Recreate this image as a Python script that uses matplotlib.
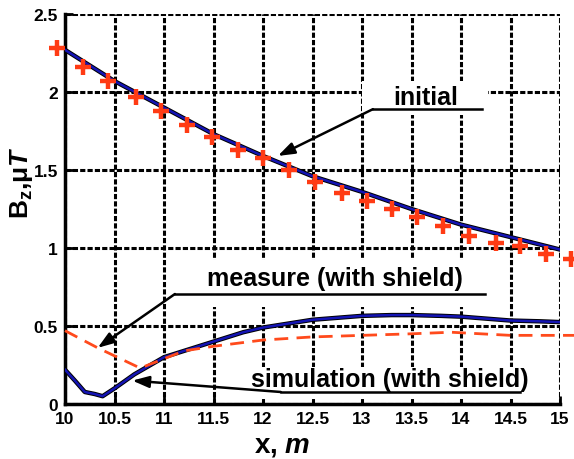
import matplotlib
matplotlib.use("Agg")
import matplotlib.pyplot as plt
import matplotlib.patheffects as pe
from matplotlib import font_manager
from matplotlib.patches import Rectangle

# pick a heavy sans font
names = {f.name for f in font_manager.fontManager.ttflist}
FONT = "Liberation Sans" if "Liberation Sans" in names else "DejaVu Sans"
TICKFONT = "Liberation Sans Narrow" if "Liberation Sans Narrow" in names else FONT

plt.rcParams['font.family'] = [FONT, 'DejaVu Sans']
plt.rcParams['mathtext.fontset'] = 'custom'
plt.rcParams['mathtext.rm'] = FONT + ':bold'
plt.rcParams['mathtext.it'] = FONT + ':bold:italic'

# initial field (simulation, no shield)
x_init = [10, 10.5, 11, 11.5, 12, 12.5, 13, 13.5, 14, 14.5, 15]
y_init = [2.27, 2.07, 1.90, 1.73, 1.59, 1.46, 1.36, 1.25, 1.15, 1.07, 0.99]

# initial field, measured points
x_meas0 = [9.92, 10.18, 10.43, 10.72, 10.97, 11.23, 11.48, 11.75, 12.0, 12.26, 12.53,
           12.8, 13.05, 13.3, 13.56, 13.82, 14.08, 14.35, 14.6, 14.86, 15.11]
y_meas0 = [2.28, 2.16, 2.07, 1.97, 1.88, 1.79, 1.71, 1.63, 1.58, 1.50, 1.42,
           1.35, 1.30, 1.25, 1.20, 1.14, 1.08, 1.03, 1.01, 0.96, 0.93]

# simulation with shield
x_sim = [10, 10.1, 10.2, 10.3, 10.38, 10.5, 10.7, 11, 11.3, 11.5, 11.8, 12, 12.3,
         12.5, 12.8, 13, 13.3, 13.5, 13.8, 14, 14.3, 14.5, 14.8, 15]
y_sim = [0.22, 0.15, 0.077, 0.064, 0.05, 0.10, 0.19, 0.30, 0.36, 0.40, 0.46, 0.49, 0.52,
         0.54, 0.555, 0.565, 0.57, 0.57, 0.565, 0.56, 0.545, 0.535, 0.53, 0.525]

# measurement with shield
x_msh = [10, 10.33, 10.76, 11, 11.2, 11.5, 12, 12.5, 13, 13.5, 13.9, 14.2, 14.5, 15, 15.15]
y_msh = [0.47, 0.36, 0.23, 0.29, 0.34, 0.37, 0.41, 0.43, 0.44, 0.45, 0.46, 0.45, 0.44, 0.44, 0.44]

xticks = [10, 10.5, 11, 11.5, 12, 12.5, 13, 13.5, 14, 14.5, 15]
xtick_labels = ["10", "10.5", "11", "11.5", "12", "12.5", "13", "13.5", "14", "14.5", "15"]
yticks = [0, 0.5, 1, 1.5, 2, 2.5]
ytick_labels = ["0", "0.5", "1", "1.5", "2", "2.5"]

fig = plt.figure(figsize=(5.74, 4.6), dpi=100)
ax = fig.add_axes([65 / 574, 55 / 460, 495 / 574, 390 / 460])

outline = [pe.Stroke(linewidth=3.2, foreground='black'), pe.Normal()]

ax.plot(x_init, y_init, color='#1414b4', lw=1.8, zorder=4, path_effects=outline)
ax.plot(x_sim, y_sim, color='#1414b4', lw=1.8, zorder=4, path_effects=outline)
ax.plot(x_msh, y_msh, color='#ff4a1c', lw=2, dashes=(5, 3), zorder=5, clip_on=False)
ax.plot(x_meas0, y_meas0, ls='none', marker='+', ms=11, mew=3.2, color='#ff3b14',
        zorder=6, clip_on=False)

ax.set_xlim(10, 15)
ax.set_ylim(0, 2.5)
ax.set_xticks(xticks)
ax.set_xticklabels(xtick_labels)
ax.set_yticks(yticks)
ax.set_yticklabels(ytick_labels)
for lab in ax.get_xticklabels() + ax.get_yticklabels():
    lab.set_fontfamily(TICKFONT)
    lab.set_fontweight('bold')
    lab.set_fontsize(12.5)
ax.tick_params(direction='in', length=6, width=2, pad=5, top=False, right=False)
ax.grid(True, color='black', lw=2.2, ls=(0, (1.7, 0.7)))
ax.set_axisbelow(True)
for side in ['top', 'right']:
    ax.spines[side].set_visible(False)
for side in ['left', 'bottom']:
    ax.spines[side].set_linewidth(2.5)

ax.set_ylabel(r'B$_{\mathrm{z}}$,μ$\mathit{T}$', fontsize=19, fontweight='bold', va='center')
ax.yaxis.set_label_coords(-0.087, 0.569)
ax.set_xlabel(r'x, $\mathit{m}$', fontsize=20, fontweight='bold', va='center')
ax.xaxis.set_label_coords(0.438, -0.105)

# label boxes, underlines and arrows
def label(text, tx, ty, box, uline, tail, tip):
    ax.add_patch(Rectangle((box[0], box[1]), box[2] - box[0], box[3] - box[1],
                           facecolor='white', edgecolor='none', zorder=3))
    ax.text(tx, ty, text, fontsize=18, fontweight='bold', ha='center', va='center', zorder=7)
    ax.plot([uline[0], uline[1]], [uline[2], uline[2]], color='black', lw=1.8, zorder=7,
            clip_on=False)
    ax.annotate('', xy=tip, xytext=tail, zorder=7,
                arrowprops=dict(arrowstyle='-|>,head_length=1.0,head_width=0.35',
                                color='black', lw=1.8, shrinkA=0, shrinkB=0))

label('initial', 13.64, 1.97, (13.0, 1.85, 14.27, 2.07), (13.11, 14.21, 1.89),
      (13.11, 1.89), (12.15, 1.59))
label('measure (with shield)', 12.73, 0.81, (11.13, 0.62, 14.3, 0.92), (11.11, 14.24, 0.705),
      (11.11, 0.705), (10.33, 0.36))
label('simulation (with shield)', 13.28, 0.16, (11.86, 0.03, 14.65, 0.24), (12.18, 14.6, 0.077),
      (12.18, 0.077), (10.68, 0.15))

fig.savefig('out.png', dpi=100)
